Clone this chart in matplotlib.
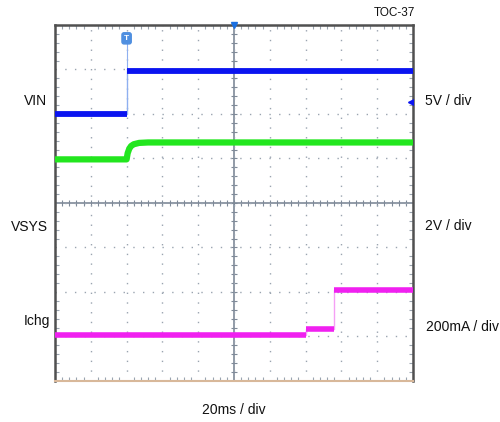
import numpy as np
import matplotlib.pyplot as plt

plt.rcParams['font.family'] = ['Liberation Sans', 'DejaVu Sans']

# time axis in ms (20 ms / div, 10 div), traces in screen divisions (8 div)
vin_t = [0, 40, 40, 200]
vin_div = [6.0, 6.0, 6.97, 6.97]

vsys_t = [0, 40, 40.6, 41.5, 42.5, 44, 47, 52, 60, 200]
vsys_div = [4.98, 4.98, 5.12, 5.22, 5.28, 5.32, 5.35, 5.36, 5.36, 5.36]

ichg_t = [0, 140, 140, 156, 156, 200]
ichg_div = [1.03, 1.03, 1.17, 1.17, 2.04, 2.04]

trigger_t = 40
trigger_div = 7.7
ch1_ref_div = 6.28

fig = plt.figure(figsize=(5, 4.22), dpi=100)
ax = fig.add_axes([0.11, 0.0972, 0.716, 0.8436])
ax.set_xlim(0, 200)
ax.set_ylim(0, 8)

# graticule
grid_c = '#9aa4b0'
ax.set_xticks(np.arange(0, 201, 20))
ax.set_yticks(np.arange(0, 9, 1))
ax.set_xticks(np.arange(0, 201, 4), minor=True)
ax.set_yticks(np.arange(0, 8.01, 0.2), minor=True)
ax.tick_params(which='both', direction='in', top=True, right=True,
               labelbottom=False, labelleft=False, color=grid_c)
ax.tick_params(which='major', length=0)
ax.tick_params(which='minor', length=3, width=0.8)
ax.grid(True, which='major', color=grid_c, linestyle=(0, (1, 6)), linewidth=1.0)
ax.axhline(4, color='#7f8a98', lw=1.2, zorder=1)
ax.axvline(100, color='#7f8a98', lw=1.2, zorder=1)
ax.vlines(np.arange(0, 201, 4), 4 - 0.07, 4 + 0.07, color='#7f8a98', lw=0.8, zorder=1)
ax.hlines(np.arange(0, 8.01, 0.2), 100 - 1.7, 100 + 1.7, color='#7f8a98', lw=0.8, zorder=1)

for side in ['left', 'top', 'right']:
    ax.spines[side].set_color('#505050')
    ax.spines[side].set_linewidth(1.8)
ax.spines['bottom'].set_color('#d8b89a')
ax.spines['bottom'].set_linewidth(1.5)


def trace(t, v, color, edge_color, lw):
    # thin line for the fast edges, thick for the flat/slow parts
    ax.plot(t, v, color=edge_color, lw=1.0, zorder=2)
    seg_t, seg_v = [t[0]], [v[0]]
    for i in range(1, len(t)):
        if t[i] == t[i - 1]:
            ax.plot(seg_t, seg_v, color=color, lw=lw, solid_capstyle='butt', zorder=3)
            seg_t, seg_v = [], []
        seg_t.append(t[i])
        seg_v.append(v[i])
    ax.plot(seg_t, seg_v, color=color, lw=lw, solid_capstyle='butt', zorder=3)


trace(vin_t, vin_div, '#0a14f0', '#8fb0f0', 4.2)
ax.plot([trigger_t, trigger_t], [vin_div[2], trigger_div], color='#8fb0f0', lw=0.8, zorder=2)
trace(vsys_t, vsys_div, '#22e61e', '#22e61e', 4.5)
trace(ichg_t, ichg_div, '#f020f0', '#f5a0f5', 4.0)

# markers
ax.text(trigger_t, trigger_div, 'T', ha='center', va='center', fontsize=6,
        color='white', fontweight='bold',
        bbox=dict(boxstyle='round,pad=0.25', fc='#4f8fe0', ec='#4f8fe0'), zorder=4)
ax.plot(100, 8, marker='v', color='#1a6fe0', ms=5, clip_on=False, zorder=5)
ax.plot(199, ch1_ref_div, marker='<', color='#0a14f0', ms=5, zorder=5)


def label(x, y, s, ha='left', size=10):
    fig.text(x / 500, 1 - y / 422, s, ha=ha, va='center', fontsize=size, color='#111111')


label(47, 101, 'VIN', ha='right')
label(425, 101, '5V / div')
label(48, 227, 'VSYS', ha='right')
label(425, 226, '2V / div')
label(50, 321, 'Ichg', ha='right')
label(426, 327, '200mA / div')
label(234, 410, '20ms / div', ha='center')
label(415, 13, 'TOC-37', ha='right', size=8.5)

fig.savefig('out.png', dpi=100)
